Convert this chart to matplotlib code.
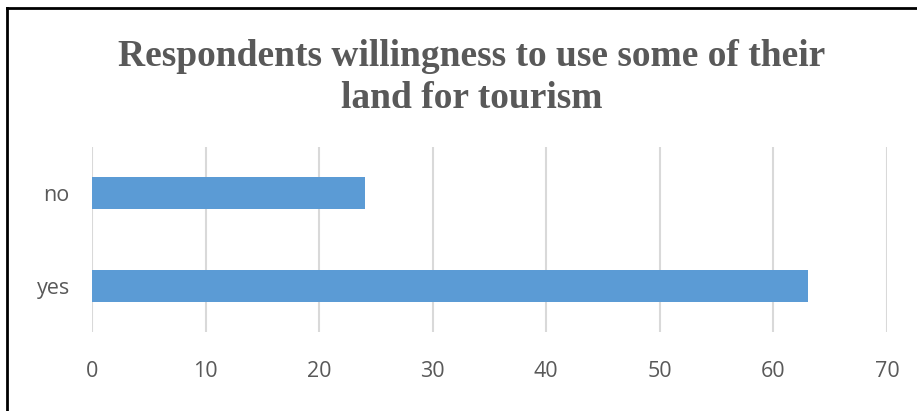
import matplotlib.pyplot as plt
from matplotlib.lines import Line2D

categories = ["yes", "no"]
counts = [63, 24]
x_ticks = [0, 10, 20, 30, 40, 50, 60, 70]

W, H = 917, 411
fig = plt.figure(figsize=(W / 100, H / 100), dpi=100)
ax = fig.add_axes([92 / W, 1 - 332 / H, (887 - 92) / W, (332 - 147) / H])

ax.barh(categories, counts, height=0.35, color="#5B9BD5", zorder=3)
ax.set_xlim(0, 70)
ax.set_ylim(-0.5, 1.5)
ax.set_xticks(x_ticks)
ax.grid(axis="x", color="#D9D9D9", linewidth=1.5, zorder=0)
for side in ax.spines.values():
    side.set_visible(False)
ax.tick_params(length=0, labelsize=15.5, labelcolor="#595959")
ax.tick_params(axis="x", pad=21)
ax.tick_params(axis="y", pad=16)
for lbl in ax.get_xticklabels() + ax.get_yticklabels():
    lbl.set_fontfamily("Open Sans")

fig.text(472 / W, 1 - 56 / H, "Respondents willingness to use some of their",
         ha="center", va="center", fontsize=27, fontweight="bold",
         family="Liberation Serif", color="#595959")
fig.text(472 / W, 1 - 98 / H, "land for tourism",
         ha="center", va="center", fontsize=27, fontweight="bold",
         family="Liberation Serif", color="#595959")

# frame lines along the left and top edges
fig.add_artist(Line2D([7 / W, 7 / W], [0, 1 - 8 / H], color="black", linewidth=2))
fig.add_artist(Line2D([7 / W, 1], [1 - 8 / H, 1 - 8 / H], color="black", linewidth=2))

fig.savefig("out.png", dpi=100)
